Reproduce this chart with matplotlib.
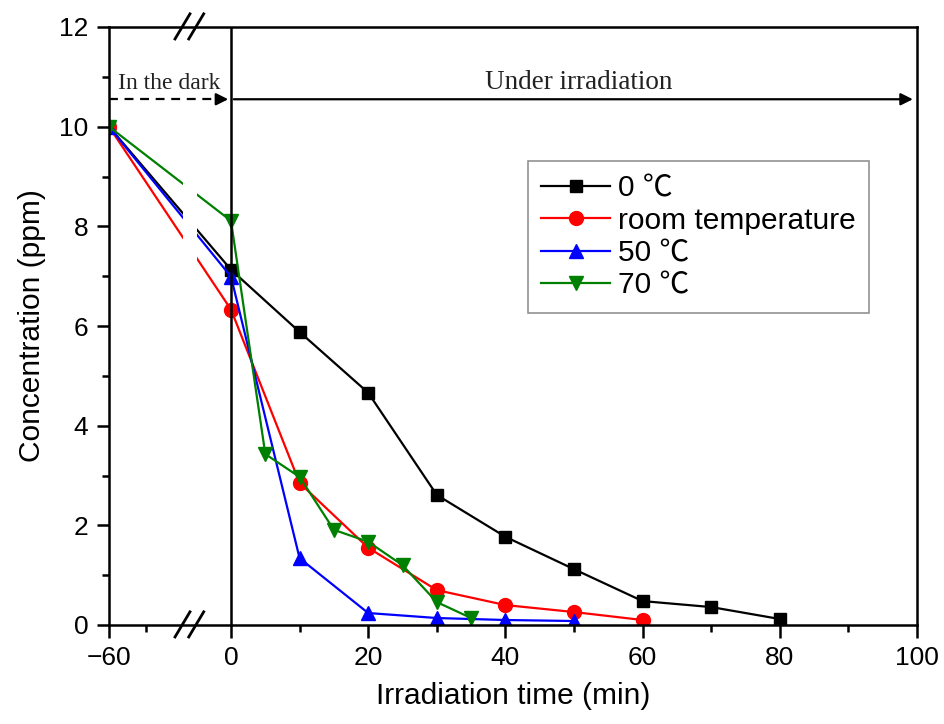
import matplotlib.pyplot as plt
import numpy as np
from matplotlib.ticker import FixedLocator

plt.rcParams['font.family'] = ['Liberation Sans', 'Noto Sans CJK SC', 'DejaVu Sans']

# data
t_black = [-60, 0, 10, 20, 30, 40, 50, 60, 70, 80]
c_black = [10, 7.13, 5.88, 4.66, 2.61, 1.77, 1.12, 0.48, 0.36, 0.12]
t_red = [-60, 0, 10, 20, 30, 40, 50, 60]
c_red = [10, 6.33, 2.85, 1.55, 0.70, 0.40, 0.26, 0.10]
t_blue = [-60, 0, 10, 20, 30, 40, 50]
c_blue = [10, 6.99, 1.34, 0.24, 0.14, 0.10, 0.08]
t_green = [-60, 0, 5, 10, 15, 20, 25, 30, 35]
c_green = [10, 8.11, 3.43, 2.97, 1.91, 1.67, 1.20, 0.46, 0.14]

labels = ['0 ℃', 'room temperature', '50 ℃', '70 ℃']

# broken x axis: piecewise linear scale
xp = [-260, -60, -40, -10, 0, 200]
fp = [109 - 200 * 3.7, 109, 183, 197, 231, 231 + 200 * 6.86]


def fwd(x):
    return np.interp(x, xp, fp)


def inv(u):
    return np.interp(u, fp, xp)


fig = plt.figure(figsize=(9.44, 7.24), dpi=100)
ax = fig.add_axes([109 / 944, 99 / 724, 808 / 944, 598 / 724])
ax.set_xscale('function', functions=(fwd, inv))
ax.set_xlim(-60, 100)
ax.set_ylim(0, 12)

ms = 10
lw = 1.6
ax.plot(t_black, c_black, '-s', color='black', lw=lw, ms=ms - 1, label=labels[0])
ax.plot(t_red, c_red, '-o', color='#ff0000', lw=lw, ms=ms, label=labels[1])
ax.plot(t_blue, c_blue, '-^', color='#0000ff', lw=lw, ms=ms, label=labels[2])
ax.plot(t_green, c_green, '-v', color='#008000', lw=lw, ms=ms, label=labels[3])

# gap in the lines at the axis break
ax.axvspan(-40, -10, ymin=0.03, ymax=0.85, color='white', zorder=2.2, lw=0)

ax.axvline(0, color='black', lw=1.8, zorder=3)

# arrows
ax.plot([-60, -2], [10.55, 10.55], '--', color='black', lw=1.6, dashes=(4, 3), zorder=3)
ax.annotate('', xy=(0, 10.55), xytext=(-4, 10.55),
            arrowprops=dict(arrowstyle='-|>', color='black', lw=1.6, mutation_scale=18))
ax.annotate('', xy=(99.8, 10.55), xytext=(0, 10.55),
            arrowprops=dict(arrowstyle='-|>', color='black', lw=1.6, mutation_scale=18))
ax.text(-57.6, 10.75, 'In the dark', family='Liberation Serif', fontsize=17, color='#222222')
ax.text(37.0, 10.76, 'Under irradiation', family='Liberation Serif', fontsize=19.5, color='#222222')

# break marks
for y0 in (0, 1):
    for dx in (0, 0.017):
        ax.plot([0.0817 + dx, 0.1002 + dx], [y0 - 0.02, y0 + 0.022], color='black', lw=2,
                transform=ax.transAxes, clip_on=False, zorder=4)

ax.xaxis.set_major_locator(FixedLocator([-60, 0, 20, 40, 60, 80, 100]))
ax.xaxis.set_minor_locator(FixedLocator([-50, 10, 30, 50, 70, 90]))
ax.set_xticklabels(['\u221260', '0', '20', '40', '60', '80', '100'])
ax.yaxis.set_major_locator(FixedLocator([0, 2, 4, 6, 8, 10, 12]))
ax.yaxis.set_minor_locator(FixedLocator([1, 3, 5, 7, 9, 11]))

ax.tick_params(which='major', direction='out', length=9, width=1.8, labelsize=19, pad=6)
ax.tick_params(which='minor', direction='out', length=5, width=1.8)
for s in ax.spines.values():
    s.set_linewidth(1.8)

ax.set_xlabel('Irradiation time (min)', fontsize=21.5, labelpad=9)
ax.set_ylabel('Concentration (ppm)', fontsize=21.5, labelpad=9)

leg = ax.legend(loc='upper left', bbox_to_anchor=(0.5186, 0.776), fontsize=21.5,
                frameon=True, fancybox=False, edgecolor='#777777', borderpad=0.45,
                handlelength=2.3, handletextpad=0.27, labelspacing=0.15, borderaxespad=0)
leg.get_frame().set_linewidth(1.2)

fig.savefig('out.png', dpi=100)
